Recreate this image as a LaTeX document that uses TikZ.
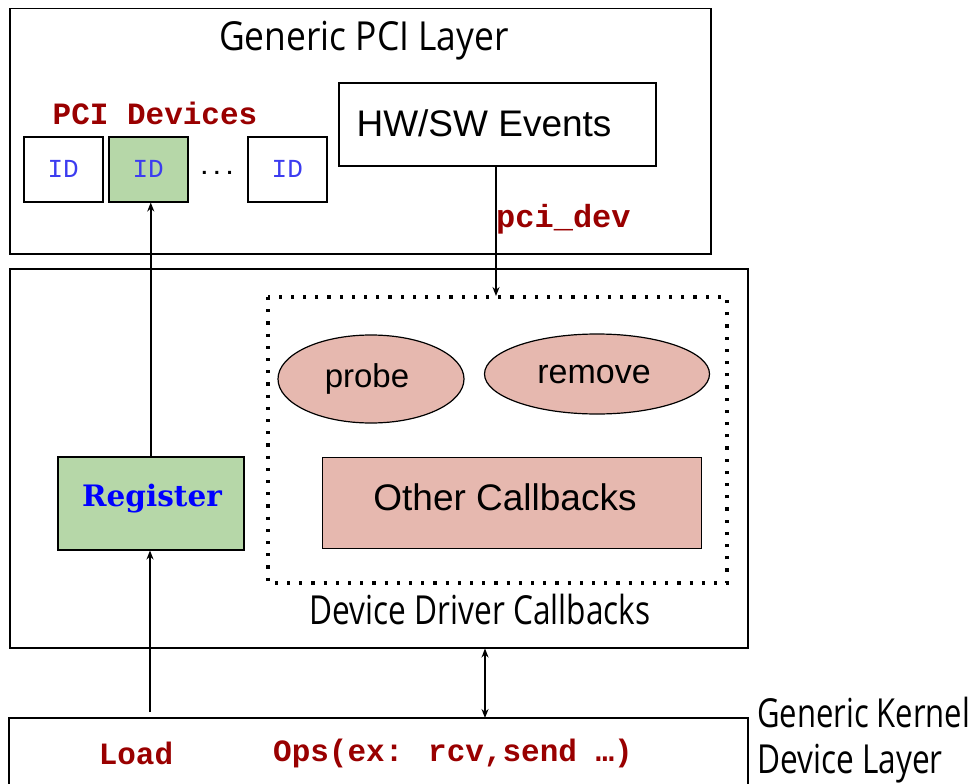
\documentclass[tikz,border=0pt]{standalone}
\usepackage{fontspec}
\usepackage{graphicx}
\setmainfont{Liberation Sans}
\newfontfamily\condfont{Open Sans}
\newfontfamily\monofont{Liberation Mono}
\newfontfamily\regfont{DejaVu Serif}
\usetikzlibrary{arrows.meta,shapes.geometric}
\definecolor{dred}{HTML}{990000}
\definecolor{gfill}{HTML}{B6D7A8}
\definecolor{pfill}{HTML}{E6B8AF}
\definecolor{idblue}{HTML}{3C3CF0}
\newcommand{\cnd}[2]{\scalebox{#1}[1]{#2}}
\tikzset{
  box/.style={draw=black, line width=1.5pt, inner sep=0pt},
  idbox/.style={box, minimum width=79pt, minimum height=65pt, font=\monofont\fontsize{26}{28}\selectfont, text=idblue},
  cb/.style={draw=black, line width=1.2pt, fill=pfill, inner sep=0pt},
  arr/.style={line width=1.6pt, -{Stealth[length=9pt,width=7pt]}},
  darr/.style={line width=1.6pt, {Stealth[length=9pt,width=7pt]}-{Stealth[length=9pt,width=7pt]}},
  codelbl/.style={font=\monofont\bfseries\fontsize{31}{34}\selectfont, text=dred, inner sep=0pt},
  cond/.style={font=\condfont\fontsize{40}{46}\selectfont, inner sep=0pt},
}
\begin{document}
\begin{tikzpicture}[x=1pt, y=-1pt]
\useasboundingbox (0,0) rectangle (974,784);
% layers
\node[box, minimum width=701pt, minimum height=245pt, anchor=north west] (pcilayer) at (9,8) {};
\node[box, minimum width=738pt, minimum height=379pt, anchor=north west] (ddlayer) at (9,268) {};
\draw[line width=1.5pt] (9,790) -- (9,718) coordinate (kl) -- (748,718) -- (748,790);
\coordinate (kltop) at (485,718);
\coordinate (loadtop) at (150,712);
% top layer
\node[cond, anchor=base] (pcititle) at (364,51) {\cnd{0.885}{Generic PCI Layer}};
\node[codelbl] (pcidev) at (155,113) {PCI Devices};
\node[idbox, anchor=north west] (id1) at (23,136) {ID};
\node[idbox, anchor=north west, fill=gfill] (id2) at (108,136) {ID};
\node[font=\monofont\bfseries\fontsize{21}{22}\selectfont, inner sep=0pt, anchor=base] (dots) at (217,174) {...};
\node[idbox, anchor=north west] (id3) at (247,136) {ID};
\node[box, minimum width=317pt, minimum height=83pt, anchor=north west] (hwsw) at (338,82) {};
\node[font=\fontsize{37}{40}\selectfont, inner sep=0pt] (hwswtxt) at (484,123) {HW/SW Events};
\node[codelbl, anchor=west, font=\monofont\bfseries\fontsize{32}{34}\selectfont] (pcidevlbl) at (496,219) {pci\_dev};
% driver layer
\draw[line width=3.2pt, dash pattern=on 3.2pt off 9pt] (268,297) rectangle (727,583);
\coordinate (dottop) at (496,296);
\node[cb, ellipse, minimum width=186pt, minimum height=88pt] (probe) at (371,379) {};
\node[font=\fontsize{33}{35}\selectfont, inner sep=0pt] (probetxt) at (367,379) {probe};
\node[cb, ellipse, minimum width=225pt, minimum height=80pt] (remove) at (597,374) {};
\node[font=\fontsize{34}{36}\selectfont, inner sep=0pt] (removetxt) at (594,375) {remove};
\node[cb, minimum width=379pt, minimum height=91pt, anchor=north west] (other) at (322,457) {};
\node[font=\fontsize{37}{39}\selectfont, inner sep=0pt] (othertxt) at (505,497) {Other Callbacks};
\node[box, fill=gfill, minimum width=186pt, minimum height=93pt, anchor=north west] (reg) at (57,456) {};
\node[font=\regfont\bfseries\fontsize{29.5}{32}\selectfont, text=blue, inner sep=0pt] (regtxt) at (152,499) {Register};
\node[cond, anchor=base] (ddtitle) at (480,624) {\cnd{0.79}{Device Driver Callbacks}};
% kernel layer
\node[codelbl] (load) at (136,753) {Load};
\node[codelbl] (ops) at (453,753) {Ops(ex: rcv,send \ldots)};
\node[cond, anchor=base west] (gk1) at (757,727) {\cnd{0.775}{Generic Kernel}};
\node[cond, anchor=base west] (gk2) at (757,773) {\cnd{0.79}{Device Layer}};
% connectors
\draw[arr] (hwsw.south -| dottop) -- (dottop);
\draw[arr] (reg.north) -- (reg.north |- id2.south);
\draw[arr] (loadtop) -- (loadtop |- reg.south);
\draw[darr] (kltop |- ddlayer.south) -- (kltop);
\end{tikzpicture}
\end{document}
